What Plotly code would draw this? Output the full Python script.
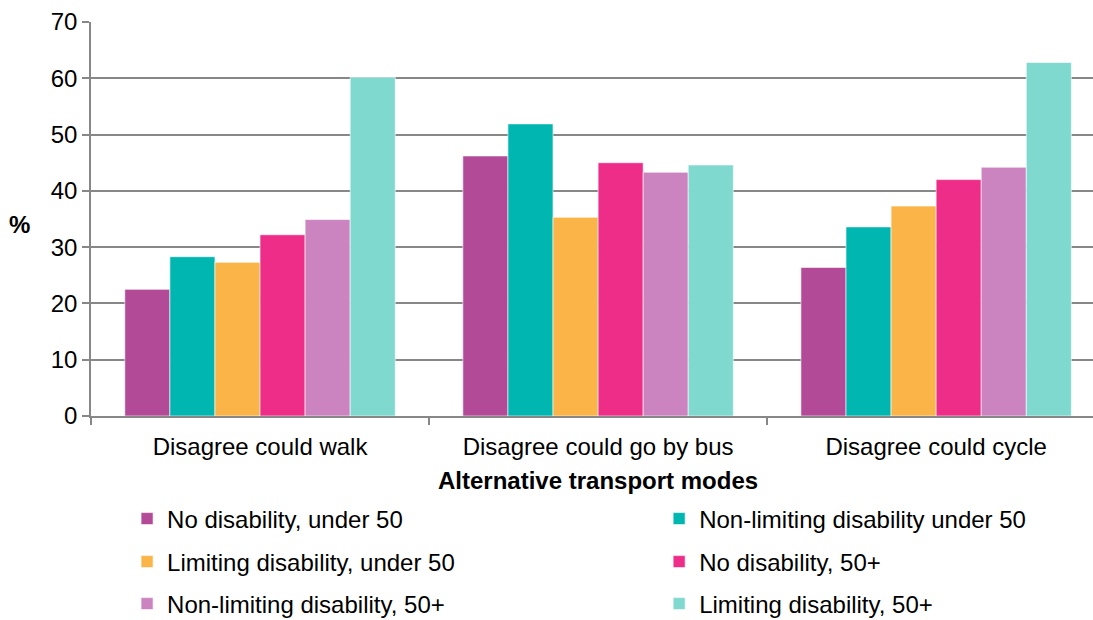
import plotly.graph_objects as go

categories = ["Disagree could walk", "Disagree could go by bus", "Disagree could cycle"]
series_names = [
    "No disability, under 50",
    "Non-limiting disability under 50",
    "Limiting disability, under 50",
    "No disability, 50+",
    "Non-limiting disability, 50+",
    "Limiting disability, 50+",
]
no_dis_u50 = [22.5, 46.2, 26.4]
nonlim_u50 = [28.3, 51.9, 33.6]
lim_u50 = [27.3, 35.3, 37.3]
no_dis_50p = [32.2, 45.0, 42.0]
nonlim_50p = [34.9, 43.3, 44.2]
lim_50p = [60.2, 44.6, 62.8]
y_ticks = [0, 10, 20, 30, 40, 50, 60, 70]

values = [no_dis_u50, nonlim_u50, lim_u50, no_dis_50p, nonlim_50p, lim_50p]
colors = ["#B24A98", "#00B6B1", "#FBB448", "#EE2D89", "#CC84C1", "#7FD9CE"]

FONT = "Liberation Sans, Arial, sans-serif"
FS = 24

# legend grid: two columns, three rows (paper coordinates)
col_x = [0.036, 0.567]
row_y = [-0.2614, -0.3706, -0.4772]

fig = go.Figure()
legend_layout = {}
for i, (name, vals, col) in enumerate(zip(series_names, values, colors)):
    lid = "legend" if i == 0 else f"legend{i + 1}"
    fig.add_trace(go.Bar(
        x=categories, y=vals, name=name,
        marker=dict(color=col, line=dict(color="white", width=0.6)),
        legend=lid,
    ))
    legend_layout[lid] = dict(
        orientation="v",
        font=dict(family=FONT, size=FS, color="#000000"),
        xanchor="left", yanchor="middle",
        x=col_x[i % 2], y=row_y[i // 2],
        bgcolor="rgba(0,0,0,0)",
    )

fig.update_layout(
    width=1093, height=620,
    margin=dict(l=91, r=0, t=22, b=204, autoexpand=False),
    paper_bgcolor="white", plot_bgcolor="white",
    barmode="group", bargap=0.2, bargroupgap=0,
    font=dict(family=FONT, size=FS, color="#000000"),
    showlegend=True,
    xaxis=dict(
        range=[-0.5, 2.464], showline=True, linecolor="#878787", linewidth=1.5,
        ticks="outside", tickson="boundaries", ticklen=7, tickcolor="#878787", tickwidth=1.5,
        tickfont=dict(family=FONT, size=FS, color="#000000"), ticklabelstandoff=8,
        showgrid=False, zeroline=False,
    ),
    yaxis=dict(
        range=[0, 70], tickvals=y_ticks, showline=True, linecolor="#878787", linewidth=1.5,
        ticks="outside", ticklen=7, tickcolor="#878787", tickwidth=1.5,
        tickfont=dict(family=FONT, size=FS, color="#000000"),
        showgrid=True, gridcolor="#878787", gridwidth=1.5, zeroline=False,
    ),
    annotations=[
        dict(text="<b>%</b>", xref="paper", yref="y", x=0, y=34.0, xanchor="right",
             xshift=-59, showarrow=False, font=dict(family=FONT, size=FS, color="#000000")),
        dict(text="<b>Alternative transport modes</b>", xref="x", yref="paper", x=1, y=0,
             yshift=-64, yanchor="middle", showarrow=False,
             font=dict(family=FONT, size=FS, color="#000000")),
    ],
)
fig.update_layout(**legend_layout)

fig.write_html(
    "out.html",
    config={"displayModeBar": False},
    post_script="document.body.style.margin='0';document.body.style.overflow='hidden';",
)
